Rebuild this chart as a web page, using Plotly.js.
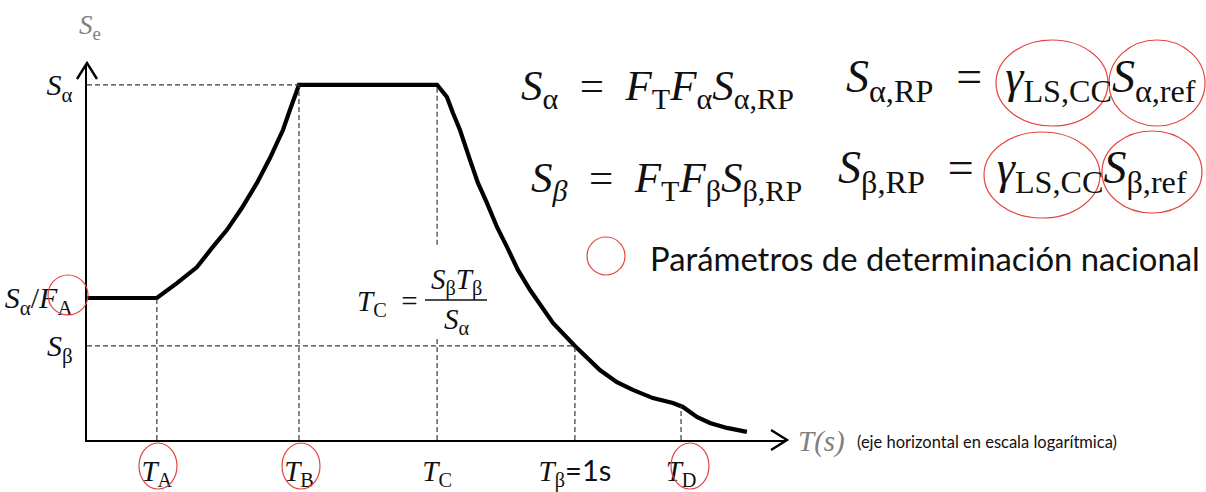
<!DOCTYPE html>
<html>
<head>
<meta charset="utf-8">
<script src="https://cdn.plot.ly/plotly-3.0.1.min.js"></script>
<style>html,body{margin:0;padding:0;background:#fff;}</style>
</head>
<body>
<div id="chart" style="width:1206px;height:492px;"></div>
<script>
// Elastic design spectrum, ordinates relative to S_alpha, periods in seconds (log axis)
const periods = [
  0.00908, 0.0178, 0.02161, 0.02621, 0.03029, 0.03499, 0.04043, 0.04671, 0.05293, 0.0600, 0.0642, 0.0700,
  0.265, 0.2913, 0.3087, 0.3303, 0.3637, 0.3927, 0.4282, 0.4717, 0.5194, 0.5774, 0.6481, 0.7276, 0.8091,
  1.0, 1.1225, 1.272, 1.499, 1.748, 2.120, 2.570, 2.831, 3.240, 3.672, 4.325, 5.245
];
const spectrum = [
  0.40, 0.40, 0.442, 0.487, 0.541, 0.592, 0.654, 0.724, 0.794, 0.873, 0.930, 1.0,
  1.0, 0.966, 0.921, 0.873, 0.789, 0.724, 0.668, 0.600, 0.544, 0.479, 0.423, 0.372, 0.330,
  0.265, 0.231, 0.197, 0.163, 0.141, 0.118, 0.104, 0.093, 0.065, 0.048, 0.034, 0.023
];

// Corner periods of the spectrum and the ordinate reached at each one
const cornerPeriods   = [0.0178, 0.0700, 0.265, 1.0, 2.78];
const cornerOrdinates = [0.40, 1.0, 1.0, 0.265, 0.097];
const cornerLabels = [
  '<i>T</i><sub>A</sub>',
  '<i>T</i><sub>B</sub>',
  '<i>T</i><sub>C</sub>',
  '<i>T</i><sub>β</sub><span style="font-family:Lato">=1s</span>',
  '<i>T</i><sub>D</sub>'
];
const cornerNational = [true, true, false, false, true];

// Reference ordinates on the vertical axis
const ordinateValues = [0.265, 0.40, 1.0];
const ordinateLabels = [
  '<i>S</i><sub>β</sub>',
  '<i>S</i><sub>α</sub>/<i>F</i><sub>A</sub>',
  '<i>S</i><sub>α</sub>'
];

const S_alpha = 1.0, S_beta = 0.265;
const T_B = 0.0700, T_C = 0.265, T_beta = 1.0;
const T_origin = 0.00908, T_end = 7.57, S_top = 1.059;

// plot-area box in page pixels, used to place the free-standing text
const L = 87, R = 785, TOP = 64, BOT = 440;
const W = R - L, H = BOT - TOP;
const X = p => (p - L) / W;
const Y = p => (BOT - p) / H;

const SERIF = 'Liberation Serif';
const SANS = 'Lato';
const RED = '#e5453f';
const DASH = {color: '#3a3a3a', width: 1.2, dash: '5px,3px'};

const shapes = [];

// dashed guides
shapes.push({type: 'line', xref: 'x', yref: 'y', x0: T_origin, x1: T_B, y0: S_alpha, y1: S_alpha, line: DASH});
shapes.push({type: 'line', xref: 'x', yref: 'y', x0: T_origin, x1: T_beta, y0: S_beta, y1: S_beta, line: DASH});
cornerPeriods.forEach((t, i) => {
  if (t === T_C) {
    // the T_C guide is broken where the T_C formula sits
    shapes.push({type: 'line', xref: 'x', yref: 'y', x0: t, x1: t, y0: 0, y1: 0.29, line: DASH});
    shapes.push({type: 'line', xref: 'x', yref: 'y', x0: t, x1: t, y0: 0.55, y1: cornerOrdinates[i], line: DASH});
  } else {
    shapes.push({type: 'line', xref: 'x', yref: 'y', x0: t, x1: t, y0: 0, y1: cornerOrdinates[i], line: DASH});
  }
});

// open arrowheads on both axes
const AX = {color: '#000', width: 2.4};
shapes.push({type: 'path', xref: 'paper', yref: 'paper',
  path: `M ${X(77)},${Y(79)} L ${X(87)},${Y(63)} L ${X(97)},${Y(79)}`, line: AX});
shapes.push({type: 'path', xref: 'paper', yref: 'paper',
  path: `M ${X(771)},${Y(430)} L ${X(787)},${Y(440)} L ${X(771)},${Y(450)}`, line: AX});

// fraction bar of the T_C formula
shapes.push({type: 'line', xref: 'paper', yref: 'paper', x0: X(425), x1: X(487), y0: Y(300), y1: Y(300),
  line: {color: '#111', width: 1.6}});

// red rings marking nationally determined parameters
function ring(cx, cy, rx, ry) {
  shapes.push({type: 'circle', xref: 'paper', yref: 'paper',
    x0: X(cx - rx), x1: X(cx + rx), y0: Y(cy + ry), y1: Y(cy - ry),
    line: {color: RED, width: 1.2}});
}
ring(68, 295, 20, 20);
const labelCentres = [158, 301, 446, 575, 690];
cornerNational.forEach((n, i) => { if (n) ring(labelCentres[i], 466, 19, 23); });
ring(1052, 83, 56, 43);
ring(1157, 83, 48, 43);
ring(1042, 175, 58, 43);
ring(1152, 172, 50, 41);
ring(606, 256, 19, 19);

function note(text, x, y, size, opts) {
  return Object.assign({
    text: text, xref: 'paper', yref: 'paper', x: X(x), y: Y(y),
    xanchor: 'left', yanchor: 'middle', showarrow: false,
    font: {family: SERIF, size: size, color: '#111'}
  }, opts || {});
}
const SP = '\u2002';
const EQ = SP + '=' + SP;

const annotations = [
  note('<i>S</i><sub>e</sub>', 90, 27, 27, {xanchor: 'center', font: {family: SERIF, size: 27, color: '#808080'}}),
  note('<i>T(s)</i>', 796, 441, 29, {font: {family: SERIF, size: 29, color: '#808080'}}),
  note('(eje horizontal en escala logarítmica)', 855, 442, 16.5, {font: {family: SANS, size: 16.5, color: '#111'}}),

  // T_C = S_beta T_beta / S_alpha
  note('<i>T</i><sub>C</sub>' + SP + '=', 420, 303, 29, {xanchor: 'right'}),
  note('<i>S</i><sub>β</sub><i>T</i><sub>β</sub>', 456, 281, 29, {xanchor: 'center'}),
  note('<i>S</i><sub>α</sub>', 457, 321, 29, {xanchor: 'center'}),

  // parameter relations
  note('<i>S</i><sub>α</sub>' + EQ + '<i>F</i><sub>T</sub><i>F</i><sub>α</sub><i>S</i><sub>α,RP</sub>', 519, 89, 43),
  note('<i>S</i><sub><i>β</i></sub>' + EQ + '<i>F</i><sub>T</sub><i>F</i><sub>β</sub><i>S</i><sub>β,RP</sub>', 529, 181, 43),
  note('<i>S</i><sub>α,RP</sub>' + EQ + '<i>γ</i><sub>LS,CC</sub><i>S</i><sub>α,ref</sub>', 844, 80, 46),
  note('<i>S</i><sub>β,RP</sub>' + EQ + '<i>γ</i><sub>LS,CC</sub><i>S</i><sub>β,ref</sub>', 836, 171, 46),

  note('Parámetros de determinación nacional', 648, 258, 32.8, {font: {family: SANS, size: 32.8, color: '#111'}})
];

const trace = {
  x: periods, y: spectrum, type: 'scatter', mode: 'lines',
  line: {color: '#000', width: 4.2}, hoverinfo: 'skip', cliponaxis: false
};

const layout = {
  width: 1206, height: 492, autosize: false,
  margin: {l: L, r: 1206 - R, t: TOP, b: 492 - BOT, pad: 0},
  paper_bgcolor: '#fff', plot_bgcolor: '#fff',
  showlegend: false,
  xaxis: {
    type: 'log', range: [Math.log10(T_origin), Math.log10(T_end)],
    showgrid: false, zeroline: false, showline: true, linecolor: '#000', linewidth: 2.4,
    ticks: '', tickvals: cornerPeriods, ticktext: cornerLabels,
    tickfont: {family: SERIF, size: 29, color: '#111'}, ticklabelstandoff: 4,
    fixedrange: true
  },
  yaxis: {
    range: [0, S_top],
    showgrid: false, zeroline: false, showline: true, linecolor: '#000', linewidth: 2.4,
    ticks: '', tickvals: ordinateValues, ticktext: ordinateLabels,
    tickfont: {family: SERIF, size: 30, color: '#111'}, ticklabelstandoff: 6,
    fixedrange: true
  },
  shapes: shapes,
  annotations: annotations
};

Plotly.newPlot('chart', [trace], layout, {staticPlot: true, displayModeBar: false});
</script>
</body>
</html>
